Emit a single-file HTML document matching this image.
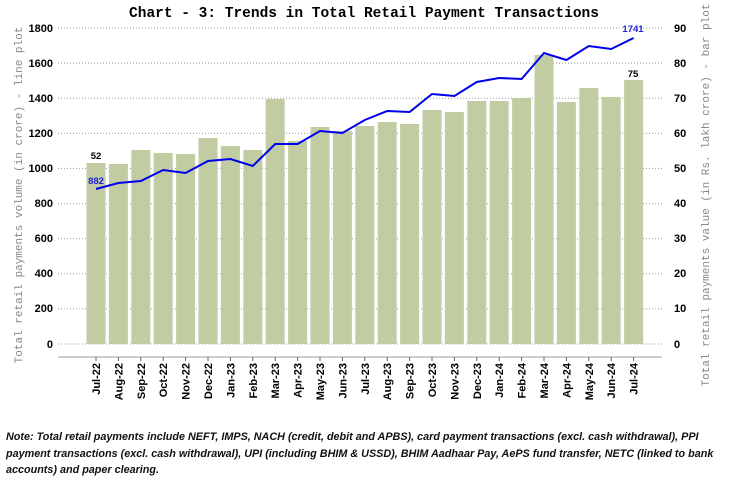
<!DOCTYPE html>
<html><head><style>
body{margin:0;background:#fff;width:729px;height:482px;overflow:hidden}
.note{position:absolute;left:6px;top:429px;width:716px;font:italic 10.8px/16.5px "Liberation Sans",sans-serif;color:#111}
</style></head><body>
<svg width="729" height="482" style="position:absolute;left:0;top:0" font-family="Liberation Sans, sans-serif">
<text x="364" y="17" text-anchor="middle" font-family="Liberation Mono, monospace" font-weight="bold" font-size="14.5">Chart - 3: Trends in Total Retail Payment Transactions</text>
<g stroke="#999" stroke-dasharray="1,2" stroke-width="1">
<line x1="58" x2="662" y1="28" y2="28"/><line x1="58" x2="662" y1="63.1" y2="63.1"/><line x1="58" x2="662" y1="98.2" y2="98.2"/><line x1="58" x2="662" y1="133.3" y2="133.3"/><line x1="58" x2="662" y1="168.4" y2="168.4"/><line x1="58" x2="662" y1="203.6" y2="203.6"/><line x1="58" x2="662" y1="238.7" y2="238.7"/><line x1="58" x2="662" y1="273.8" y2="273.8"/><line x1="58" x2="662" y1="308.9" y2="308.9"/><line x1="58" x2="662" y1="344" y2="344"/>
</g>
<line x1="58" x2="662" y1="357" y2="357" stroke="#999"/>
<g font-weight="bold" font-size="11" text-anchor="end">
<text x="53" y="32">1800</text><text x="53" y="67">1600</text><text x="53" y="102">1400</text><text x="53" y="137">1200</text><text x="53" y="172">1000</text><text x="53" y="207">800</text><text x="53" y="242">600</text><text x="53" y="277">400</text><text x="53" y="312">200</text><text x="53" y="348">0</text>
</g>
<g font-weight="bold" font-size="11">
<text x="674" y="32">90</text><text x="674" y="67">80</text><text x="674" y="102">70</text><text x="674" y="137">60</text><text x="674" y="172">50</text><text x="674" y="207">40</text><text x="674" y="242">30</text><text x="674" y="277">20</text><text x="674" y="312">10</text><text x="674" y="348">0</text>
</g>
<text transform="translate(22,195) rotate(-90)" text-anchor="middle" font-family="Liberation Mono, monospace" font-size="11" fill="#888">Total retail payments volume (in crore) - line plot</text>
<text transform="translate(709,195) rotate(-90)" text-anchor="middle" font-family="Liberation Mono, monospace" font-size="11" fill="#888">Total retail payments value (in Rs. lakh crore) - bar plot</text>
<g fill="#c2cca2" id="bars"></g>
<polyline id="ln" fill="none" stroke="#0000ee" stroke-width="2"/>
<g id="lbl" font-weight="bold" font-size="11"></g>
<text x="96" y="159" text-anchor="middle" font-weight="bold" font-size="9.5">52</text>
<text x="96" y="184" text-anchor="middle" font-weight="bold" font-size="9.5" fill="#2222dd">882</text>
<text x="633" y="77" text-anchor="middle" font-weight="bold" font-size="9.5">75</text>
<text x="633" y="32" text-anchor="middle" font-weight="bold" font-size="9.5" fill="#2222dd">1741</text>
</svg>
<div class="note"><b>Note: Total retail payments include NEFT, IMPS, NACH (credit, debit and APBS), card payment transactions (excl. cash withdrawal), PPI payment transactions (excl. cash withdrawal), UPI (including BHIM &amp; USSD), BHIM Aadhaar Pay, AePS fund transfer, NETC (linked to bank accounts) and paper clearing.</b></div>
<script>
var m=["Jul-22","Aug-22","Sep-22","Oct-22","Nov-22","Dec-22","Jan-23","Feb-23","Mar-23","Apr-23","May-23","Jun-23","Jul-23","Aug-23","Sep-23","Oct-23","Nov-23","Dec-23","Jan-24","Feb-24","Mar-24","Apr-24","May-24","Jun-24","Jul-24"];
var bt=[163,164,150,153,154,138,146,150,99,141,127,131,126,122,124,110,112,101,101,98,55,102,88,97,80];
var ly=[189,183,181,170,173,161,159,166,144,144,131,133,120,111,112,94,96,82,78,79,53,60,46,49,38];
var ns="http://www.w3.org/2000/svg",B=document.getElementById("bars"),L=document.getElementById("lbl"),pts=[];
for(var i=0;i<25;i++){var cx=96+i*22.4;
var r=document.createElementNS(ns,"rect");r.setAttribute("x",cx-9.5);r.setAttribute("width",19);r.setAttribute("y",bt[i]);r.setAttribute("height",344-bt[i]);B.appendChild(r);
pts.push(cx+","+ly[i]);
var t=document.createElementNS(ns,"text");t.setAttribute("transform","translate("+(cx+4)+",363) rotate(-90)");t.setAttribute("text-anchor","end");t.textContent=m[i];L.appendChild(t);
var k=document.createElementNS(ns,"line");k.setAttribute("x1",cx);k.setAttribute("x2",cx);k.setAttribute("y1",357);k.setAttribute("y2",361);k.setAttribute("stroke","#666");L.appendChild(k);}
document.getElementById("ln").setAttribute("points",pts.join(" "));
</script>
</body></html>
